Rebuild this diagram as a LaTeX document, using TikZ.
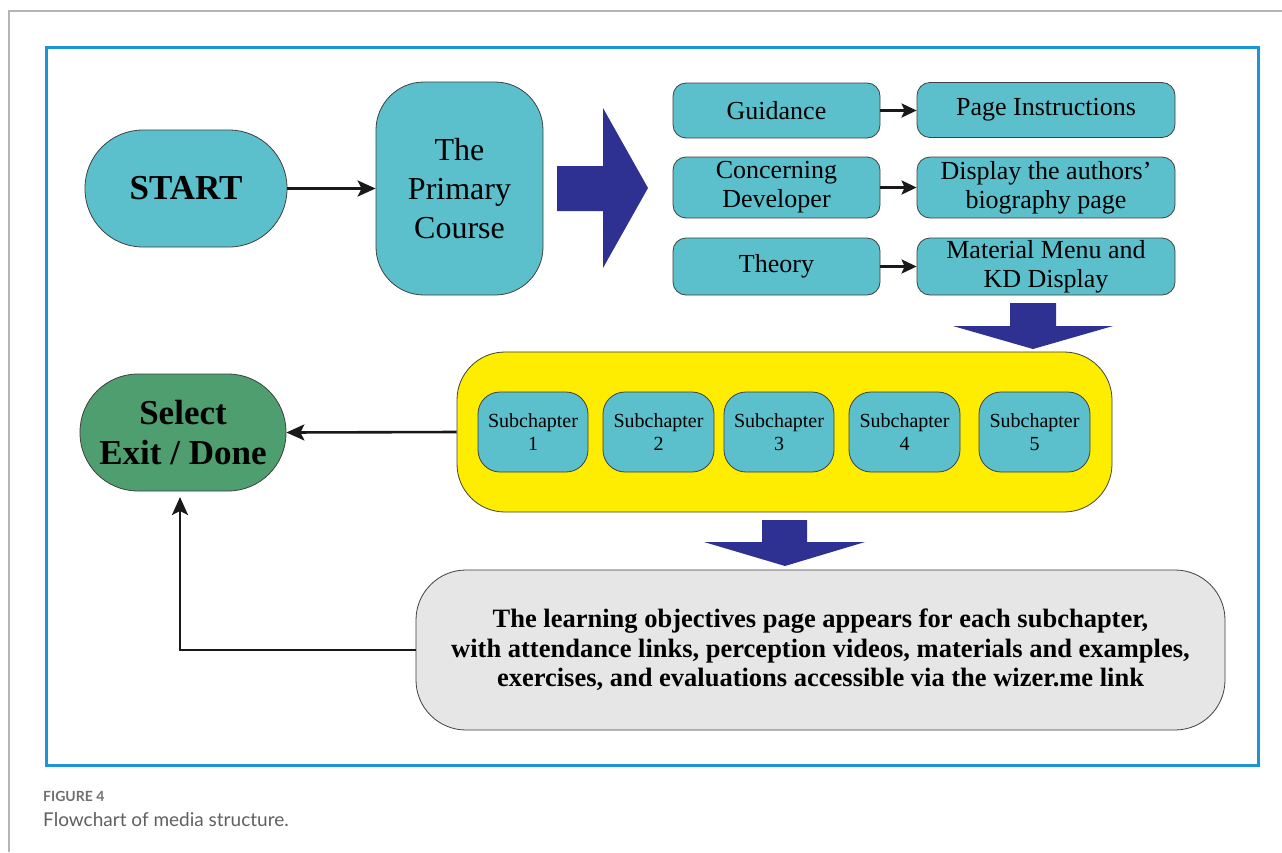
\documentclass[tikz,border=0pt]{standalone}
\usepackage{fontspec}
\setmainfont{Liberation Serif}
\newfontfamily\capfont{Lato}
\usetikzlibrary{arrows.meta}
\definecolor{tealbox}{HTML}{5BC0CB}
\definecolor{greenbox}{HTML}{4F9E6F}
\definecolor{yelbox}{HTML}{FFED00}
\definecolor{navyarrow}{HTML}{2E3192}
\definecolor{graybox}{HTML}{E6E6E7}
\definecolor{frameblue}{HTML}{1B95D8}
\definecolor{pagegray}{HTML}{B4B4B4}
\definecolor{capgray}{HTML}{5F6062}
\begin{document}
\begin{tikzpicture}[x=1pt,y=-1pt,
  box/.style={draw=black!75, line width=0.8pt, fill=tealbox, align=center, inner sep=0pt},
  conn/.style={line width=2.6pt, draw=black!90, -{Stealth[length=18pt,width=16pt,inset=4pt]}},
  smallconn/.style={conn, -{Stealth[length=15pt,width=14pt,inset=3pt]}},
  blockarrow/.style={fill=navyarrow, draw=none},
  sidetext/.style={font=\fontsize{26}{29}\selectfont},
  subtext/.style={font=\fontsize{20}{23}\selectfont}]
\useasboundingbox (0,0) rectangle (1282,852);
\fill[white] (0,0) rectangle (1282,852);
% page frame
\draw[pagegray, line width=1.5pt] (9,852) -- (9,11) -- (1282,11);
% blue frame
\draw[frameblue, line width=3pt] (46,47) rectangle (1258,765);

% nodes
\node[box, rounded corners=58pt, minimum width=202pt, minimum height=117pt,
      font=\fontsize{35}{40}\selectfont\bfseries] (start) at (186,188.5) {START};
\node[box, rounded corners=48pt, minimum width=167pt, minimum height=213pt,
      font=\fontsize{32}{39}\selectfont] (prim) at (459.5,188.5) {The\\Primary\\Course};

\node[box, sidetext, rounded corners=13pt, minimum width=207pt, minimum height=55pt] (guid) at (776.5,110.5) {Guidance};
\node[box, sidetext, rounded corners=13pt, minimum width=258pt, minimum height=55pt] (pinst) at (1046,110) {Page Instructions};
\node[box, sidetext, rounded corners=13pt, minimum width=207pt, minimum height=61pt] (conc) at (776.5,187.5) {Concerning\\Developer};
\node[box, sidetext, rounded corners=13pt, minimum width=258pt, minimum height=61pt] (disp) at (1046,187.5) {Display the authors'\\biography page};
\node[box, sidetext, rounded corners=13pt, minimum width=207pt, minimum height=57pt] (theo) at (776.5,266.5) {Theory};
\node[box, sidetext, rounded corners=13pt, minimum width=258pt, minimum height=57pt] (mat) at (1046,266.5) {Material Menu and\\KD Display};

\node[box, fill=yelbox, rounded corners=48pt, minimum width=655pt, minimum height=160pt] (yel) at (784.5,432) {};
\node[box, subtext, rounded corners=22pt, minimum width=110pt, minimum height=80pt] (s1) at (533,432) {Subchapter\\1};
\node[box, subtext, rounded corners=22pt, minimum width=111pt, minimum height=80pt] (s2) at (658.5,432) {Subchapter\\2};
\node[box, subtext, rounded corners=22pt, minimum width=110pt, minimum height=80pt] (s3) at (779,432) {Subchapter\\3};
\node[box, subtext, rounded corners=22pt, minimum width=111pt, minimum height=80pt] (s4) at (904.5,432) {Subchapter\\4};
\node[box, subtext, rounded corners=22pt, minimum width=111pt, minimum height=80pt] (s5) at (1034.5,432) {Subchapter\\5};

\node[box, fill=greenbox, rounded corners=58pt, minimum width=206pt, minimum height=117pt,
      font=\fontsize{35}{40}\selectfont\bfseries] (sel) at (183,432.5) {Select\\Exit / Done};

\node[box, fill=graybox, rounded corners=50pt, minimum width=809pt, minimum height=160pt,
      font=\fontsize{26.5}{29.5}\selectfont\bfseries] (obj) at (820.5,650)
      {The learning objectives page appears for each subchapter,\\
       with attendance links, perception videos, materials and examples,\\
       exercises, and evaluations accessible via the wizer.me link};

% block arrows
\fill[blockarrow] (557,166) -- (603,166) -- (603,108) -- (648,188) -- (603,268) -- (603,211) -- (557,211) -- cycle;
\fill[blockarrow] (1010,303) -- (1056,303) -- (1056,326) -- (1113,326) -- (1033,349) -- (953,326) -- (1010,326) -- cycle;
\fill[blockarrow] (762,520) -- (807,520) -- (807,542) -- (865,542) -- (785,566) -- (704,542) -- (762,542) -- cycle;

% connectors
\draw[conn] (start.east) -- (prim.west);
\draw[smallconn] (guid.east) -- (guid.east -| pinst.west);
\draw[smallconn] (conc.east) -- (disp.west);
\draw[smallconn] (theo.east) -- (mat.west);
\draw[conn] (yel.west) -- (sel.east);
\coordinate (selin) at (180,497);
\draw[conn] (obj.west) -| (selin);

% caption
\node[anchor=west, inner sep=0pt, text=capgray!90, font=\capfont\bfseries\fontsize{14}{16}\selectfont] (fig) at (43,796) {FIGURE 4};
\node[anchor=west, inner sep=0pt, text=capgray, font=\capfont\fontsize{19}{21}\selectfont] (capt) at (43,820) {Flowchart of media structure.};
\end{tikzpicture}
\end{document}
